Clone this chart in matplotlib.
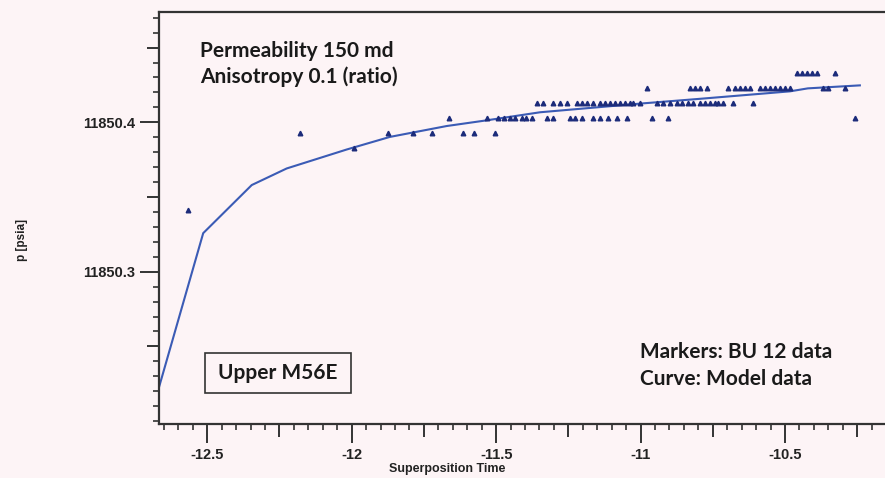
import matplotlib
matplotlib.use("Agg")
import matplotlib.pyplot as plt
from matplotlib.patches import Rectangle
from matplotlib.ticker import FixedLocator, MultipleLocator, FuncFormatter

plt.rcParams["axes.unicode_minus"] = False

# Buildup 12 gauge readings (superposition time, pressure in psia)
bu_time_a = [-12.568, -12.180, -11.992, -11.873, -11.787, -11.722, -11.614,
             -11.577, -11.504]
bu_pres_a = [11850.341, 11850.393, 11850.383, 11850.393, 11850.393, 11850.393,
             11850.393, 11850.393, 11850.393]

bu_time_403 = [-11.662, -11.533, -11.493, -11.473, -11.453, -11.435, -11.412,
               -11.395, -11.377, -11.325, -11.302, -11.245, -11.228, -11.204,
               -11.164, -11.141, -11.112, -11.083, -11.048, -10.962, -10.904,
               -10.258]
bu_time_413 = [-11.360, -11.337, -11.302, -11.279, -11.256, -11.221, -11.204,
               -11.187, -11.164, -11.141, -11.123, -11.106, -11.089, -11.071,
               -11.054, -11.037, -11.025, -11.002, -10.944, -10.922, -10.898,
               -10.875, -10.858, -10.835, -10.818, -10.795, -10.777, -10.761,
               -10.743, -10.731, -10.714, -10.679, -10.610]
bu_time_423 = [-10.979, -10.829, -10.812, -10.795, -10.771, -10.697, -10.673,
               -10.656, -10.639, -10.621, -10.587, -10.569, -10.552, -10.535,
               -10.517, -10.500, -10.483, -10.368, -10.350, -10.293]
bu_time_433 = [-10.460, -10.442, -10.425, -10.408, -10.389, -10.327]

bu_time = bu_time_a + bu_time_403 + bu_time_413 + bu_time_423 + bu_time_433
bu_pressure = (bu_pres_a
               + [11850.403] * len(bu_time_403)
               + [11850.413] * len(bu_time_413)
               + [11850.423] * len(bu_time_423)
               + [11850.433] * len(bu_time_433))

# Model response
model_time = [-12.667, -12.514, -12.346, -12.225, -12.017, -11.868, -11.671,
              -11.533, -11.348, -11.002, -10.795, -10.483, -10.421, -10.241]
model_pressure = [11850.2227, 11850.3258, 11850.3580, 11850.3691, 11850.3818,
                  11850.3902, 11850.3975, 11850.4013, 11850.4067, 11850.4125,
                  11850.4157, 11850.4207, 11850.4227, 11850.4247]

x_major = [-12.5, -12.0, -11.5, -11.0, -10.5]
y_major = [11850.3, 11850.4]

bg = "#fdf4f6"
fig = plt.figure(figsize=(8.85, 4.78), dpi=100, facecolor=bg)
ax = fig.add_axes([159 / 885, 1 - 424 / 478, 726 / 885, 412 / 478], facecolor=bg)

ax.plot(model_time, model_pressure, color="#3b5bb5", lw=1.5, zorder=2)
ax.plot(bu_time, bu_pressure, ls="none", marker="^", ms=3.3, color="#1c2b7a",
        mec="#1c2b7a", zorder=3)

ax.set_xlim(-12.667, -10.154)
ax.set_ylim(11850.1981, 11850.4738)

for s in ("left", "bottom", "top"):
    ax.spines[s].set_color("#333333")
    ax.spines[s].set_linewidth(1.6)
ax.spines["right"].set_visible(False)

tick_family = ["Liberation Sans Narrow", "Liberation Sans"]

# x ticks: labelled every 0.5, medium every 0.25, minor every 0.05
x_ticks = [-12.5 + 0.25 * i for i in range(-1, 10) if -12.667 <= -12.5 + 0.25 * i <= -10.154]
ax.xaxis.set_major_locator(FixedLocator(x_ticks))
ax.xaxis.set_minor_locator(MultipleLocator(0.05))
ax.xaxis.set_major_formatter(FuncFormatter(
    lambda v, p: ("%g" % v) if min(abs(v - m) for m in x_major) < 1e-6 else ""))

y_ticks = [11850.2 + 0.05 * i for i in range(1, 6)]
ax.yaxis.set_major_locator(FixedLocator(y_ticks))
ax.yaxis.set_minor_locator(MultipleLocator(0.01))
ax.yaxis.set_major_formatter(FuncFormatter(
    lambda v, p: ("%.1f" % v) if min(abs(v - m) for m in y_major) < 1e-6 else ""))

ax.tick_params(axis="both", which="major", direction="out", width=1.4,
               color="#333333", length=14, pad=3)
ax.tick_params(axis="both", which="minor", direction="out", width=1.2,
               color="#333333", length=4)
ax.tick_params(top=False, right=False, which="both")

for lab in ax.get_xticklabels() + ax.get_yticklabels():
    lab.set_fontfamily(tick_family)
    lab.set_fontweight("bold")
    lab.set_fontsize(10.5)
    lab.set_color("#222222")

# shorter medium ticks for the unlabelled major positions
for t, v in zip(ax.xaxis.get_major_ticks(), x_ticks):
    if min(abs(v - m) for m in x_major) > 1e-6:
        t.tick1line.set_markersize(9)
for t, v in zip(ax.yaxis.get_major_ticks(), y_ticks):
    if min(abs(v - m) for m in y_major) > 1e-6:
        t.tick1line.set_markersize(9)

fig.text(447 / 885, 1 - 469 / 478, "Superposition Time", ha="center", va="center",
         family=tick_family, weight="bold", fontsize=9, color="#222222")
fig.text(22 / 885, 1 - 240 / 478, "p [psia]", ha="center", va="center", rotation=90,
         family=tick_family, weight="bold", fontsize=8.5, color="#222222")

ann = dict(family=["Lato", "DejaVu Sans"], weight="bold", fontsize=15, color="#1a1a1a")
fig.text(200 / 885, 1 - 51 / 478, "Permeability 150 md", ha="left", va="center", **ann)
fig.text(200 / 885, 1 - 77 / 478, "Anisotropy 0.1 (ratio)", ha="left", va="center", **ann)
fig.text(640 / 885, 1 - 352 / 478, "Markers: BU 12 data", ha="left", va="center", **ann)
fig.text(640 / 885, 1 - 379 / 478, "Curve: Model data", ha="left", va="center", **ann)

fig.patches.append(Rectangle((205 / 885, 1 - 393 / 478), 146 / 885, 40 / 478,
                             transform=fig.transFigure, fill=False,
                             edgecolor="#333333", lw=1.2))
fig.text(278 / 885, 1 - 373 / 478, "Upper M56E", ha="center", va="center", **ann)

fig.savefig("out.png", dpi=100, facecolor=bg)
